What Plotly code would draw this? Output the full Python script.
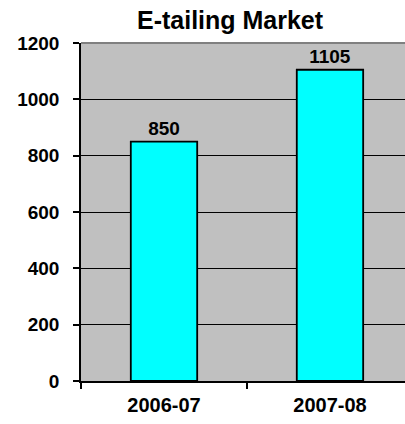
import plotly.graph_objects as go

categories = ["2006-07", "2007-08"]
values = [850, 1105]
y_ticks = [0, 200, 400, 600, 800, 1000, 1200]
title_text = "E-tailing Market"

FONT = "Liberation Sans, Arial, sans-serif"

fig = go.Figure(
    go.Bar(
        x=categories,
        y=values,
        width=0.4,
        marker=dict(color="#00FFFF", line=dict(color="black", width=1.8)),
        text=[str(v) for v in values],
        textposition="outside",
        textfont=dict(family=FONT, size=19, color="black", weight="bold"),
        cliponaxis=False,
    )
)

fig.update_layout(
    width=405,
    height=424,
    margin=dict(l=81, r=0, t=43, b=43),
    paper_bgcolor="white",
    plot_bgcolor="#C0C0C0",
    showlegend=False,
    font=dict(family=FONT, color="black"),
    title=dict(
        text="<b>" + title_text + "</b>",
        x=0.568,
        xanchor="center",
        y=0.953,
        yanchor="middle",
        font=dict(family=FONT, size=25, color="black"),
    ),
    xaxis=dict(
        type="category",
        range=[-0.5, 1.452],
        showgrid=False,
        showline=True,
        linecolor="black",
        linewidth=1.5,
        ticks="outside",
        tickson="boundaries",
        ticklen=6,
        tickwidth=1.5,
        tickcolor="black",
        ticklabelstandoff=5,
        tickangle=0,
        tickfont=dict(family=FONT, size=20, color="black", weight="bold"),
        zeroline=False,
    ),
    yaxis=dict(
        range=[0, 1200],
        tickvals=y_ticks,
        showgrid=True,
        gridcolor="black",
        gridwidth=1.4,
        showline=True,
        linecolor="black",
        linewidth=1.5,
        ticks="outside",
        ticklen=6,
        tickwidth=1.5,
        tickcolor="black",
        ticklabelstandoff=10,
        tickfont=dict(family=FONT, size=19, color="black", weight="bold"),
        zeroline=False,
    ),
)

fig.add_shape(
    type="line", xref="paper", yref="paper", x0=0, x1=1, y0=1, y1=1,
    line=dict(color="#808080", width=2), layer="above",
)

fig.write_html("out.html")
